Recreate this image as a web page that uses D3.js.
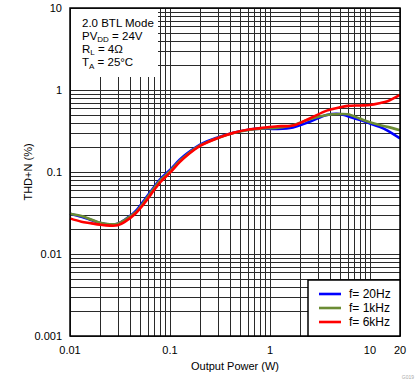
<!DOCTYPE html>
<html>
<head>
<meta charset="utf-8">
<script src="https://cdn.jsdelivr.net/npm/d3@7"></script>
<style>
  body { margin: 0; background: #fff; }
  text { font-family: Arial, "Liberation Sans", sans-serif; }
</style>
</head>
<body>
<div id="chart"></div>
<script>
// output power (W)
let power = [0.01, 0.013, 0.016, 0.02, 0.025, 0.03, 0.035, 0.045, 0.055, 0.065, 0.08, 0.1, 0.125, 0.15, 0.2, 0.3, 0.43, 0.63, 0.8, 1.2, 1.7, 2.5, 3.7, 5, 6, 8, 10, 12.5, 15, 20]
// THD+N (%)
let thd20Hz = [0.031, 0.0285, 0.0262, 0.0238, 0.0228, 0.0234, 0.026, 0.033, 0.045, 0.059, 0.082, 0.106, 0.141, 0.17, 0.216, 0.264, 0.302, 0.33, 0.338, 0.335, 0.35, 0.41, 0.496, 0.51, 0.48, 0.43, 0.39, 0.355, 0.32, 0.257]
let thd1kHz = [0.031, 0.029, 0.0265, 0.024, 0.023, 0.0234, 0.0258, 0.032, 0.043, 0.057, 0.079, 0.102, 0.136, 0.165, 0.211, 0.26, 0.298, 0.327, 0.338, 0.347, 0.372, 0.44, 0.496, 0.51, 0.505, 0.445, 0.405, 0.375, 0.355, 0.322]
let thd6kHz = [0.0272, 0.0248, 0.0238, 0.0228, 0.0222, 0.0224, 0.0245, 0.031, 0.041, 0.054, 0.075, 0.098, 0.132, 0.161, 0.208, 0.259, 0.3, 0.332, 0.343, 0.362, 0.368, 0.45, 0.56, 0.615, 0.64, 0.648, 0.656, 0.69, 0.73, 0.87]

let seriesNames = ['f= 20Hz', 'f= 1kHz', 'f= 6kHz']
let seriesColors = ['#0000ff', '#6b8c35', '#ff0000']

let xTicks = [0.01, 0.1, 1, 10, 20]
let xTickLabels = ['0.01', '0.1', '1', '10', '20']
let yTicks = [0.001, 0.01, 0.1, 1, 10]
let yTickLabels = ['0.001', '0.01', '0.1', '1', '10']

function graphCreation() {
  var width = 419, height = 382;
  var plot = {left: 70, right: 400, top: 8, bottom: 336};

  var x = d3.scaleLog().domain([0.01, 20]).range([plot.left, plot.right]);
  var y = d3.scaleLog().domain([0.001, 10]).range([plot.bottom, plot.top]);

  var svg = d3.select("#chart").append("svg")
    .attr("width", width)
    .attr("height", height);

  // grid values 1..9 per decade
  var xGrid = [], yGrid = [];
  [0.01, 0.1, 1, 10].forEach(function(d) {
    for (let k = 1; k < 10; k++) {
      let v = +(d * k).toPrecision(3);
      if (v <= 20) xGrid.push(v);
    }
  });
  [0.001, 0.01, 0.1, 1].forEach(function(d) {
    for (let k = 1; k <= 10; k++) yGrid.push(+(d * k).toPrecision(3));
  });

  var grid = svg.append("g").attr("shape-rendering", "crispEdges");
  grid.selectAll(".vg").data(xGrid).enter().append("line")
    .attr("x1", d => Math.round(x(d)) + 0.5).attr("x2", d => Math.round(x(d)) + 0.5)
    .attr("y1", plot.top).attr("y2", plot.bottom)
    .attr("stroke", "#2a2a2a").attr("stroke-width", 1);
  grid.selectAll(".hg").data(yGrid).enter().append("line")
    .attr("x1", plot.left).attr("x2", plot.right)
    .attr("y1", d => Math.round(y(d)) + 0.5).attr("y2", d => Math.round(y(d)) + 0.5)
    .attr("stroke", "#2a2a2a").attr("stroke-width", 1);

  // white box behind the conditions text
  svg.append("rect")
    .attr("x", plot.left + 1).attr("y", plot.top + 1)
    .attr("width", 87).attr("height", 68)
    .attr("fill", "#fff");

  // curves
  var line = d3.line()
    .x(d => x(d[0]))
    .y(d => y(d[1]))
    .curve(d3.curveCatmullRom.alpha(0.5));

  var series = [thd20Hz, thd1kHz, thd6kHz];
  series.forEach(function(vals, i) {
    svg.append("path")
      .datum(power.map((p, j) => [p, vals[j]]))
      .attr("fill", "none")
      .attr("stroke", seriesColors[i])
      .attr("stroke-width", 2.6)
      .attr("d", line);
  });

  // plot border
  svg.append("rect")
    .attr("x", plot.left).attr("y", plot.top)
    .attr("width", plot.right - plot.left).attr("height", plot.bottom - plot.top)
    .attr("fill", "none").attr("stroke", "#000").attr("stroke-width", 1.5);

  // tick labels
  svg.selectAll(".xl").data(xTicks).enter().append("text")
    .attr("x", d => x(d)).attr("y", 354)
    .attr("text-anchor", "middle").attr("font-size", "11px")
    .text((d, i) => xTickLabels[i]);
  svg.selectAll(".yl").data(yTicks).enter().append("text")
    .attr("x", 62).attr("y", d => y(d) + 4)
    .attr("text-anchor", "end").attr("font-size", "11px")
    .text((d, i) => yTickLabels[i]);

  // axis titles
  svg.append("text")
    .attr("x", (plot.left + plot.right) / 2).attr("y", 370)
    .attr("text-anchor", "middle").attr("font-size", "11px")
    .text("Output Power (W)");
  svg.append("text")
    .attr("transform", "translate(32," + ((plot.top + plot.bottom) / 2) + ") rotate(-90)")
    .attr("text-anchor", "middle").attr("font-size", "11px")
    .text("THD+N (%)");

  // conditions text
  var cond = svg.append("g").attr("font-size", "11.5px");
  cond.append("text").attr("x", 82).attr("y", 27).text("2.0 BTL Mode");
  var t = cond.append("text").attr("x", 82).attr("y", 39.5);
  t.append("tspan").text("PV");
  t.append("tspan").attr("font-size", "8px").attr("dy", 2.5).text("DD");
  t.append("tspan").attr("dy", -2.5).text(" = 24V");
  t = cond.append("text").attr("x", 82).attr("y", 52.5);
  t.append("tspan").text("R");
  t.append("tspan").attr("font-size", "8px").attr("dy", 2.5).text("L");
  t.append("tspan").attr("dy", -2.5).text(" = 4\u03A9");
  t = cond.append("text").attr("x", 82).attr("y", 66);
  t.append("tspan").text("T");
  t.append("tspan").attr("font-size", "8px").attr("dy", 2.5).text("A");
  t.append("tspan").attr("dy", -2.5).text(" = 25\u00B0C");

  // legend
  var lg = svg.append("g");
  lg.append("rect")
    .attr("x", 308).attr("y", 280).attr("width", 92).attr("height", 56)
    .attr("fill", "#fff").attr("stroke", "#000").attr("stroke-width", 1.5);
  seriesNames.forEach(function(name, i) {
    let yy = 294 + i * 14;
    lg.append("line")
      .attr("x1", 319).attr("x2", 341).attr("y1", yy).attr("y2", yy)
      .attr("stroke", seriesColors[i]).attr("stroke-width", 2.6);
    lg.append("text")
      .attr("x", 349).attr("y", yy + 4)
      .attr("font-size", "12px")
      .text(name);
  });

  svg.append("text")
    .attr("x", 414).attr("y", 379)
    .attr("text-anchor", "end").attr("font-size", "5px").attr("fill", "#aaa")
    .text("G019");
}

graphCreation();
</script>
</body>
</html>
